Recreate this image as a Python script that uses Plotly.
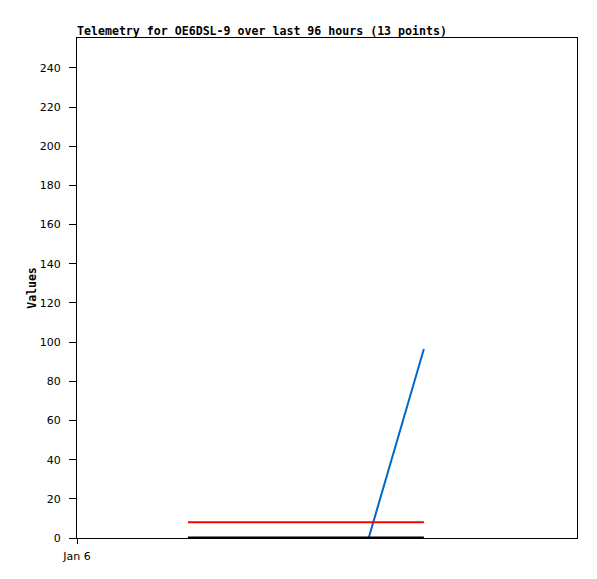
import plotly.graph_objects as go
import datetime as dt

# timestamps (hours after Jan 6 00:00)
hours = [21.3, 24.5, 27.5, 30.5, 33.5, 36.5, 39.5, 42.5, 45.5, 48.5, 51.5, 56.0, 66.6]
blue_vals = [0, 0, 0, 0, 0, 0, 0, 0, 0, 0, 0, 0, 96.5]
red_vals = [8.0] * 13
black_vals = [0.3] * 13

base = dt.datetime(2024, 1, 6)
times = [base + dt.timedelta(hours=h) for h in hours]

x_tick_vals = [base]
x_tick_text = ["Jan 6"]
y_tick_vals = [0, 20, 40, 60, 80, 100, 120, 140, 160, 180, 200, 220, 240]

W, H = 589, 571

fig = go.Figure()
fig.add_trace(go.Scatter(x=times, y=blue_vals, mode="lines",
                         line=dict(color="#0066cc", width=2), showlegend=False))
fig.add_trace(go.Scatter(x=times, y=red_vals, mode="lines",
                         line=dict(color="#ff0000", width=2), showlegend=False))
fig.add_trace(go.Scatter(x=times, y=black_vals, mode="lines",
                         line=dict(color="#000000", width=2), showlegend=False))

fig.update_layout(
    width=W, height=H,
    margin=dict(l=69, r=20, t=30, b=41),
    paper_bgcolor="white", plot_bgcolor="white",
    title=dict(text="<b>Telemetry for OE6DSL-9 over last 96 hours (13 points)</b>",
               x=69/W, xanchor="left", y=1-27/H, yanchor="bottom",
               font=dict(family="DejaVu Sans Mono", size=11.6, color="black")),
    xaxis=dict(type="date", range=[base, base + dt.timedelta(hours=96)],
               tickvals=x_tick_vals, ticktext=x_tick_text,
               showgrid=False, zeroline=False, showline=True, mirror=True,
               linecolor="black", linewidth=1, ticks="outside", ticklen=5,
               ticklabelstandoff=3,
               tickcolor="black", tickfont=dict(family="DejaVu Sans", size=11, color="black")),
    yaxis=dict(range=[0, 255.3], tickvals=y_tick_vals,
               showgrid=False, zeroline=False, showline=True, mirror=True,
               linecolor="black", linewidth=1, ticks="outside", ticklen=7,
               ticklabelstandoff=6,
               tickcolor="black", tickfont=dict(family="DejaVu Sans", size=11, color="black"),
               title=dict(text="<b>Values</b>", standoff=0,
                          font=dict(family="DejaVu Sans Mono", size=11.5, color="black"))),
)

fig.write_html("out.html")
